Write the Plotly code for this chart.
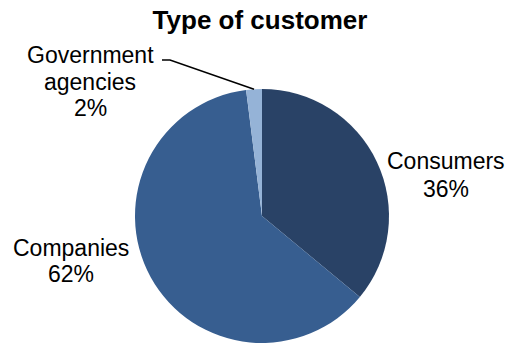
import math
import plotly.graph_objects as go

# Customer mix
categories = ["Consumers", "Companies", "Government agencies"]
shares = [36, 62, 2]
label_lines = [["Consumers"], ["Companies"], ["Government", "agencies"]]
colors = ["#294266", "#375E90", "#95B3D7"]

W, H = 507, 343
# pie geometry in pixels
CX, CY, R = 262, 216, 127

# label anchor points (pixels): centre x, baseline of first line, line pitch
label_pos = [(446, 168, 28), (71, 255, 26), (90, 62, 26.5)]
FONT = "Liberation Sans, Arial, sans-serif"
FS = 23

fig = go.Figure(
    go.Pie(
        labels=categories,
        values=shares,
        sort=False,
        direction="clockwise",
        rotation=0,
        marker=dict(colors=colors, line=dict(width=0)),
        textinfo="none",
        hoverinfo="label+percent",
        domain=dict(x=[(CX - R) / W, (CX + R) / W], y=[(H - CY - R) / H, (H - CY + R) / H]),
        showlegend=False,
    )
)

total = sum(shares)
for lines, v, (px, base, pitch) in zip(label_lines, shares, label_pos):
    pct = round(100 * v / total)
    for i, line in enumerate(lines + [f"{pct}%"]):
        yb = base + i * pitch
        fig.add_annotation(
            x=px / W, y=1 - yb / H, xref="paper", yref="paper",
            text=line, showarrow=False, xanchor="center", yanchor="bottom",
            borderpad=0, yshift=-7,
            font=dict(family=FONT, size=FS, color="#000000"),
        )

# leader line to the small government slice, ending at the slice mid-angle on the rim
cum = sum(shares[:2])
mid = (cum + shares[2] / 2) / total * 2 * math.pi
ex = CX + R * math.sin(mid)
ey = CY - R * math.cos(mid)
sx, sy = 162, 60
kx = 170
fig.add_shape(
    type="path", xref="paper", yref="paper",
    path=f"M {sx / W} {1 - sy / H} L {kx / W} {1 - sy / H} L {ex / W} {1 - ey / H}",
    line=dict(color="#000000", width=1.5),
)

fig.update_layout(
    width=W, height=H,
    margin=dict(l=0, r=0, t=0, b=0),
    paper_bgcolor="#FFFFFF",
    plot_bgcolor="#FFFFFF",
    title=dict(
        text="<b>Type of customer</b>",
        x=260 / W, xanchor="center", y=1 - 20 / H, yanchor="middle",
        font=dict(family=FONT, size=26, color="#000000"),
    ),
)

fig.write_html("out.html")
